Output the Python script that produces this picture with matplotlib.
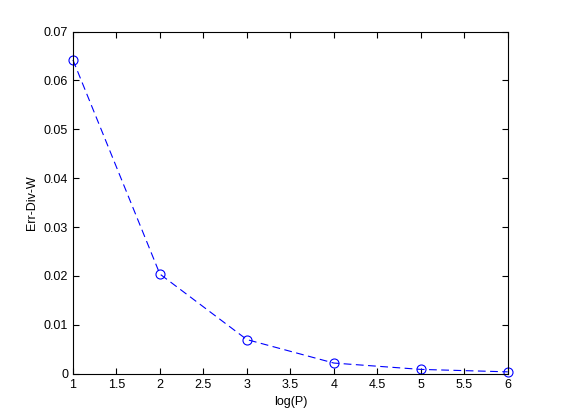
import matplotlib.pyplot as plt

log_p = [1, 2, 3, 4, 5, 6]
err_div_w = [0.0642, 0.0204, 0.0070, 0.0022, 0.0009, 0.0004]

plt.rcParams["font.family"] = ["Liberation Sans", "DejaVu Sans"]
plt.rcParams["font.size"] = 9

fig = plt.figure(figsize=(5.61, 4.2), dpi=100)
ax = fig.add_axes([0.13, 0.11, 0.775, 0.815])
ax.plot(log_p, err_div_w, "o--", color="blue", mfc="none", ms=6.5, lw=0.8,
        dashes=(7, 4), mew=0.8, clip_on=False)

ax.set_xlim(1, 6)
ax.set_ylim(0, 0.07)
ax.set_xticks([1, 1.5, 2, 2.5, 3, 3.5, 4, 4.5, 5, 5.5, 6])
ax.set_xticklabels(["1", "1.5", "2", "2.5", "3", "3.5", "4", "4.5", "5", "5.5", "6"])
ax.set_yticks([0, 0.01, 0.02, 0.03, 0.04, 0.05, 0.06, 0.07])
ax.set_yticklabels(["0", "0.01", "0.02", "0.03", "0.04", "0.05", "0.06", "0.07"])
ax.tick_params(direction="in", top=True, right=True, length=4, width=0.8)
for s in ax.spines.values():
    s.set_linewidth(0.8)

ax.set_xlabel("log(P)")
ax.set_ylabel("Err-Div-W")

fig.savefig("out.png", dpi=100)
